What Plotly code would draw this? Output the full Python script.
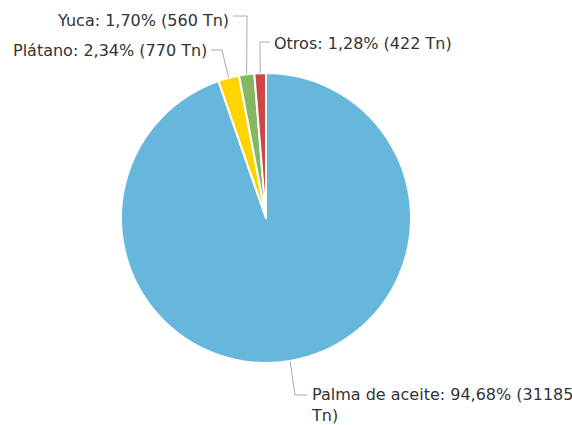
import math
import plotly.graph_objects as go

# Producción agrícola por cultivo (toneladas)
cultivos = ["Palma de aceite", "Plátano", "Yuca", "Otros"]
toneladas = [31185, 770, 560, 422]
colores = ["#67b7dc", "#fdd400", "#84b761", "#cc4748"]

W, H = 572, 425
CX, CY, R = 266, 218, 145  # pie centre and radius in pixels (from top-left)

# Leader-line layout per label: elbow point, line end, text side, text centre y
disposicion = {
    "Palma de aceite": dict(elbow=(295, 395), end=(307, 395), side="left", ty=395),
    "Plátano": dict(elbow=(222, 50), end=(211, 50), side="right", ty=50),
    "Yuca": dict(elbow=(247, 16), end=(233, 16), side="right", ty=20),
    "Otros": dict(elbow=(260, 42), end=(270, 42), side="left", ty=44),
}

def px(x):
    return x / W

def py(y):
    return 1 - y / H

total = sum(toneladas)

fig = go.Figure(
    go.Pie(
        labels=cultivos,
        values=toneladas,
        marker=dict(colors=colores, line=dict(color="white", width=2)),
        sort=False,
        direction="clockwise",
        rotation=0,
        textinfo="none",
        hoverinfo="label+value+percent",
        showlegend=False,
        domain=dict(
            x=[px(CX - R), px(CX + R)],
            y=[py(CY + R), py(CY - R)],
        ),
    )
)

shapes = []
annotations = []
acum = 0
for nombre, valor in zip(cultivos, toneladas):
    mitad = (acum + valor / 2) / total
    acum += valor
    ang = 2 * math.pi * mitad  # clockwise from 12 o'clock
    ex = CX + R * math.sin(ang)
    ey = CY - R * math.cos(ang)
    d = disposicion[nombre]
    (bx, by), (fx, fy) = d["elbow"], d["end"]
    path = f"M {px(ex)} {py(ey)} L {px(bx)} {py(by)} L {px(fx)} {py(fy)}"
    shapes.append(dict(type="path", xref="paper", yref="paper", path=path,
                       line=dict(color="#aaaaaa", width=1)))
    pct = f"{100 * valor / total:.2f}".replace(".", ",")
    if nombre == "Palma de aceite":
        texto = f"{nombre}: {pct}% ({valor}<br>Tn)"
        yanchor, ty = "top", d["ty"] - 12
    else:
        texto = f"{nombre}: {pct}% ({valor} Tn)"
        yanchor, ty = "middle", d["ty"]
    if d["side"] == "left":
        annotations.append(dict(x=px(fx + 2), y=py(ty), xref="paper", yref="paper",
                                text=texto, showarrow=False, xanchor="left",
                                yanchor=yanchor, align="left"))
    else:
        annotations.append(dict(x=px(fx - 2), y=py(ty), xref="paper", yref="paper",
                                text=texto, showarrow=False, xanchor="right",
                                yanchor=yanchor, align="right"))

fig.update_layout(
    width=W,
    height=H,
    margin=dict(l=0, r=0, t=0, b=0),
    paper_bgcolor="white",
    plot_bgcolor="white",
    font=dict(family="DejaVu Sans, Verdana, sans-serif", size=16, color="#333333"),
    shapes=shapes,
    annotations=annotations,
)

fig.write_html("out.html")
